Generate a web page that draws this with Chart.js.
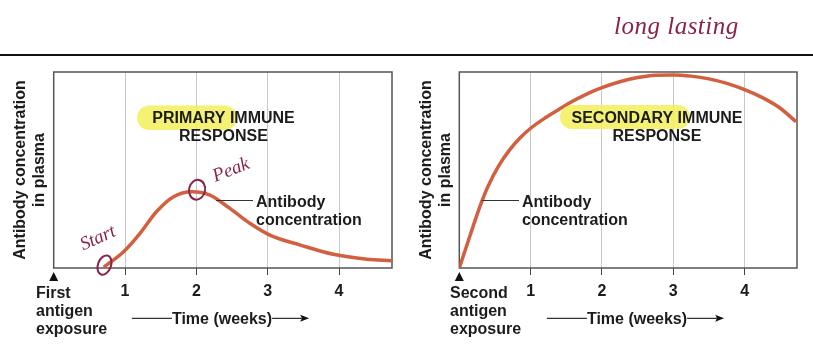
<!DOCTYPE html>
<html><head><meta charset="utf-8">
<script src="https://cdn.jsdelivr.net/npm/chart.js@4"></script>
<style>
html,body{margin:0;padding:0;background:#fff;}
#wrap{position:relative;width:813px;height:360px;overflow:hidden;background:#fff;}
#rule{position:absolute;left:0;top:54px;width:813px;height:2px;background:#111;}
#c1{position:absolute;left:0;top:0;}
#c2{position:absolute;left:406px;top:0;}
#note{position:absolute;left:614px;top:12px;font:italic 25px "Liberation Serif",serif;color:#8b2346;letter-spacing:0.5px;}
</style></head>
<body><div id="wrap">
<div id="rule"></div>
<canvas id="c1" width="406" height="360"></canvas>
<canvas id="c2" width="407" height="360"></canvas>
<div id="note">long lasting</div>
</div>
<script>
// ---- data ----
const weekTicks = [1, 2, 3, 4];
const primaryWeeks = [0.7, 0.74, 0.98, 1.21, 1.44, 1.68, 1.94, 2.19, 2.47, 2.75, 3.03, 3.46, 3.92, 4.39, 4.74];
const primaryLevel = [0.5, 1.5, 8.3, 17.7, 28.7, 36.4, 38.9, 37.2, 30.4, 22.8, 16.8, 11.7, 7.0, 4.5, 3.7];
const secondaryWeeks = [0, 0.1, 0.2, 0.3, 0.4, 0.55, 0.7, 0.85, 1.0, 1.2, 1.4, 1.6, 1.8, 2.0, 2.25, 2.5, 2.75, 3.0, 3.25, 3.5, 3.75, 4.0, 4.25, 4.5, 4.72];
const secondaryLevel = [0, 11, 22, 32.5, 41.5, 52, 60, 66.3, 71.3, 76.5, 81, 85.3, 89, 92, 95, 97.2, 98.4, 98.5, 97.9, 96.5, 94.2, 91, 86.9, 81.5, 74.6];
const yTitleLines = ['Antibody concentration', 'in plasma'];
const primaryTitle = ['PRIMARY IMMUNE', 'RESPONSE'];
const secondaryTitle = ['SECONDARY IMMUNE', 'RESPONSE'];
const curveLabel = ['Antibody', 'concentration'];
const firstExposure = ['First', 'antigen', 'exposure'];
const secondExposure = ['Second', 'antigen', 'exposure'];
const timeLabel = 'Time (weeks)';
const handNotes = ['Start', 'Peak'];

const FONT = '"Liberation Sans", Arial, Helvetica, sans-serif';
const INK = '#1c1c1c';
const CURVE = '#d2603f';
const HAND = '#8b2346';

function pts(xs, ys) { return xs.map((x, i) => ({ x: x, y: ys[i] })); }

function decor(o) {
  return {
    id: 'decor',
    beforeDatasetsDraw(chart) {
      const { ctx, chartArea: a } = chart;
      ctx.save();
      ctx.strokeStyle = '#555';
      ctx.lineWidth = 1.5;
      ctx.strokeRect(a.left, a.top, a.right - a.left, a.bottom - a.top);
      ctx.restore();
    },
    afterDraw(chart) {
      const { ctx } = chart;
      const xs = chart.scales.x;
      ctx.save();
      // highlight
      ctx.fillStyle = 'rgba(242,238,90,0.85)';
      const h = o.hl;
      ctx.beginPath();
      ctx.roundRect(h[0], h[1], h[2], h[3], h[3] / 2);
      ctx.fill();
      // title
      ctx.fillStyle = INK;
      ctx.font = 'bold 16px ' + FONT;
      ctx.textAlign = 'center';
      ctx.textBaseline = 'alphabetic';
      ctx.fillText(o.title[0], o.titleX, 123.3);
      ctx.fillText(o.title[1], o.titleX, 141);
      // leader + label
      ctx.strokeStyle = '#333';
      ctx.lineWidth = 1.2;
      ctx.beginPath();
      ctx.moveTo(o.lead[0], 200.5);
      ctx.lineTo(o.lead[1], 200.5);
      ctx.stroke();
      ctx.textAlign = 'left';
      ctx.fillText(curveLabel[0], o.lead[1] + 3, 207);
      ctx.fillText(curveLabel[1], o.lead[1] + 3, 224.5);
      // exposure marker
      const x0 = xs.getPixelForValue(0);
      ctx.fillStyle = '#111';
      ctx.beginPath();
      ctx.moveTo(x0, 272);
      ctx.lineTo(x0 - 4.5, 281);
      ctx.lineTo(x0 + 4.5, 281);
      ctx.closePath();
      ctx.fill();
      ctx.fillStyle = INK;
      o.exposure.forEach((t, i) => ctx.fillText(t, o.expX, [298.3, 316, 333.5][i]));
      // time label with arrow
      ctx.font = 'bold 16px ' + FONT;
      ctx.textAlign = 'center';
      ctx.fillText(timeLabel, o.timeX, 323.8);
      const tw = ctx.measureText(timeLabel).width;
      ctx.beginPath();
      ctx.moveTo(o.timeX - tw / 2 - 40, 318.3);
      ctx.lineTo(o.timeX - tw / 2, 318.3);
      ctx.moveTo(o.timeX + tw / 2, 318.3);
      ctx.lineTo(o.timeX + tw / 2 + 31, 318.3);
      ctx.stroke();
      const tip = o.timeX + tw / 2 + 37;
      ctx.fillStyle = '#111';
      ctx.beginPath();
      ctx.moveTo(tip, 318.3);
      ctx.lineTo(tip - 9, 314.8);
      ctx.lineTo(tip - 7, 318.3);
      ctx.lineTo(tip - 9, 321.8);
      ctx.closePath();
      ctx.fill();
      // handwriting (primary only)
      if (o.hand) {
        const ys = chart.scales.y;
        ctx.strokeStyle = HAND;
        ctx.fillStyle = HAND;
        ctx.lineWidth = 2;
        const c1x = xs.getPixelForValue(primaryWeeks[1]), c1y = ys.getPixelForValue(primaryLevel[1]);
        ctx.beginPath();
        ctx.ellipse(c1x - 2, c1y, 6.5, 10, 0.35, 0, Math.PI * 2);
        ctx.stroke();
        const c2x = xs.getPixelForValue(primaryWeeks[6]), c2y = ys.getPixelForValue(primaryLevel[6]);
        ctx.beginPath();
        ctx.ellipse(c2x + 5, c2y - 2, 8, 10, 0.2, 0, Math.PI * 2);
        ctx.stroke();
        ctx.font = 'italic 19px "Liberation Serif", serif';
        ctx.textAlign = 'center';
        ctx.save();
        ctx.translate(100, 243);
        ctx.rotate(-0.42);
        ctx.fillText(handNotes[0], 0, 0);
        ctx.restore();
        ctx.save();
        ctx.translate(233, 175);
        ctx.rotate(-0.38);
        ctx.fillText(handNotes[1], 0, 0);
        ctx.restore();
      }
      ctx.restore();
    }
  };
}

function makeChart(id, xsData, ysData, o) {
  return new Chart(document.getElementById(id), {
    type: 'line',
    data: {
      datasets: [{
        data: pts(xsData, ysData),
        borderColor: CURVE,
        borderWidth: 3.5,
        pointRadius: 0,
        fill: false,
        cubicInterpolationMode: 'monotone'
      }]
    },
    options: {
      responsive: false,
      animation: false,
      events: [],
      layout: { padding: { left: 0, right: o.padRight, top: 72, bottom: 0 } },
      plugins: { legend: { display: false }, tooltip: { enabled: false } },
      scales: {
        x: {
          type: 'linear',
          min: 0,
          max: o.xMax,
          afterFit: s => { s.height = 92; },
          afterBuildTicks: s => { s.ticks = weekTicks.map(v => ({ value: v })); },
          border: { display: false },
          grid: { color: '#c8c8c8', lineWidth: 1, tickColor: '#444', tickLength: 7, drawTicks: true },
          ticks: { color: INK, padding: 6.6, font: { family: FONT, size: 16, weight: 'bold' }, maxRotation: 0 }
        },
        y: {
          min: 0,
          max: 100,
          afterFit: s => { s.width = o.areaLeft; },
          border: { display: false },
          grid: { display: false },
          ticks: { display: false },
          title: {
            display: true,
            text: yTitleLines,
            color: INK,
            padding: { top: o.titlePad, bottom: 0 },
            font: { family: FONT, size: 16, weight: 'bold', lineHeight: 1.2 }
          }
        }
      }
    },
    plugins: [decor(o)]
  });
}

makeChart('c1', primaryWeeks, primaryLevel, {
  padRight: 14, areaLeft: 53.7, xMax: 4.743, titlePad: 11,
  hl: [137, 105.5, 100, 24.5], title: primaryTitle, titleX: 223.5,
  lead: [216, 253], exposure: firstExposure, expX: 36, timeX: 222, hand: true
});
makeChart('c2', secondaryWeeks, secondaryLevel, {
  padRight: 16, areaLeft: 53.3, xMax: 4.734, titlePad: 10.5,
  hl: [154, 105, 130, 24], title: secondaryTitle, titleX: 251,
  lead: [75.7, 113], exposure: secondExposure, expX: 44, timeX: 231, hand: false
});
</script>
</body></html>
